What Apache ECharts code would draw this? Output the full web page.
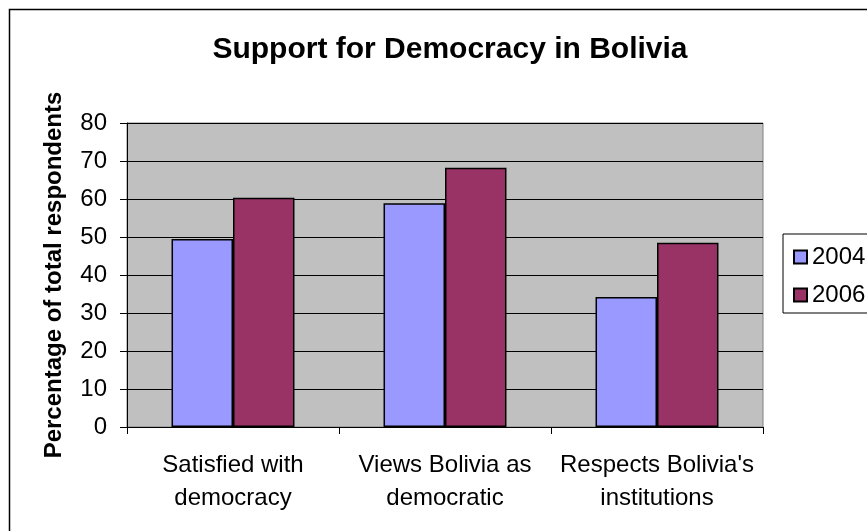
<!DOCTYPE html>
<html>
<head>
<meta charset="utf-8">
<script src="https://cdn.jsdelivr.net/npm/echarts@6/dist/echarts.min.js"></script>
<style>
html,body{margin:0;padding:0;background:#fff;}
#c{width:867px;height:531px;}
</style>
</head>
<body>
<div id="c"></div>
<script>
var categories = ['Satisfied with\ndemocracy', 'Views Bolivia as\ndemocratic', "Respects Bolivia's\ninstitutions"];
var seriesNames = ['2004', '2006'];
var values2004 = [49.5, 58.9, 34.2];
var values2006 = [60.3, 68.2, 48.5];
var yTicks = {min: 0, max: 80, interval: 10};

var FONT = 'Liberation Sans, Arial, sans-serif';
var chart = echarts.init(document.getElementById('c'), null, {renderer: 'canvas'});
chart.setOption({
  backgroundColor: '#ffffff',
  animation: false,
  title: {
    text: 'Support for Democracy in Bolivia',
    left: 445, textAlign: 'center', top: 30,
    textStyle: {fontFamily: FONT, fontWeight: 'bold', fontSize: 30, color: '#000'}
  },
  graphic: [{
    type: 'rect', left: 7, top: 7,
    shape: {x: 0, y: 0, width: 900, height: 600},
    style: {fill: 'none', stroke: '#000', lineWidth: 1.5}, silent: true, z: -1
  }],
  legend: {
    orient: 'vertical', left: 783, top: 234,
    data: seriesNames,
    itemWidth: 13, itemHeight: 13, itemGap: 14,
    padding: [11, 20, 6, 10],
    borderColor: '#000', borderWidth: 1,
    icon: 'rect',
    textStyle: {fontFamily: FONT, fontSize: 24, color: '#000', lineHeight: 24}
  },
  grid: {
    left: 127, right: 104, top: 123, bottom: 104,
    show: true, backgroundColor: '#C0C0C0', borderColor: '#808080', borderWidth: 1
  },
  xAxis: {
    type: 'category', data: categories,
    axisLine: {lineStyle: {color: '#000', width: 1}},
    axisTick: {show: true, length: 7, lineStyle: {color: '#000'}},
    axisLabel: {interval: 0, fontFamily: FONT, fontSize: 24, color: '#000', lineHeight: 33, margin: 22}
  },
  yAxis: {
    type: 'value', min: yTicks.min, max: yTicks.max, interval: yTicks.interval,
    name: 'Percentage of total respondents', nameLocation: 'middle', nameGap: 61,
    nameTextStyle: {fontFamily: FONT, fontWeight: 'bold', fontSize: 24, color: '#000'},
    axisLine: {show: true, lineStyle: {color: '#000', width: 1}},
    axisTick: {show: true, length: 7, lineStyle: {color: '#000'}},
    splitLine: {lineStyle: {color: '#000', width: 1}},
    axisLabel: {fontFamily: FONT, fontSize: 24, color: '#000', margin: 20}
  },
  series: [{
    name: seriesNames[0], type: 'bar', data: values2004,
    barGap: '0%', barCategoryGap: '42%',
    itemStyle: {color: '#9999FF', borderColor: '#000', borderWidth: 1.5}
  }, {
    name: seriesNames[1], type: 'bar', data: values2006,
    itemStyle: {color: '#993366', borderColor: '#000', borderWidth: 1.5}
  }]
});
</script>
</body>
</html>
